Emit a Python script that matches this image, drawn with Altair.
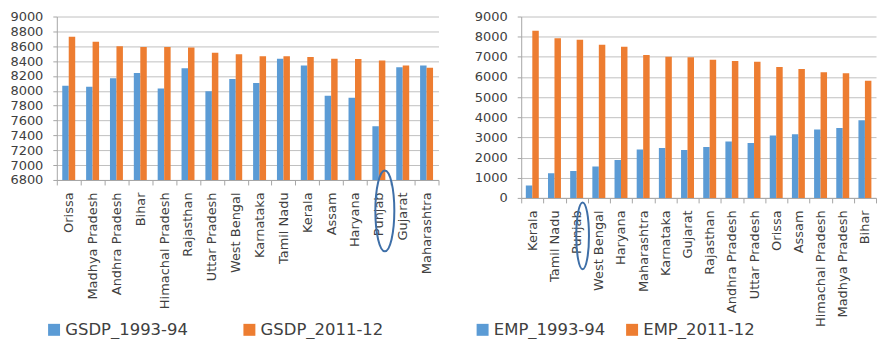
import altair as alt
import pandas as pd

BLUE = "#5B9BD5"
ORANGE = "#ED7D31"
TEXT = "#404040"
AXIS_GREY = "#a6a6a6"
GRID_GREY = "#c0c0c0"
FONT = "DejaVu Sans"

# --- GSDP panel -----------------------------------------------------------
gsdp_states = ["Orissa", "Madhya Pradesh", "Andhra Pradesh", "Bihar",
               "Himachal Pradesh", "Rajasthan", "Uttar Pradesh", "West Bengal",
               "Karnataka", "Tamil Nadu", "Kerala", "Assam", "Haryana",
               "Punjab", "Gujarat", "Maharashtra"]
gsdp_series = ["GSDP_1993-94", "GSDP_2011-12"]
gsdp_1993 = [8068, 8055, 8168, 8241, 8032, 8305, 7995, 8159,
             8105, 8432, 8341, 7932, 7905, 7523, 8318, 8341]
gsdp_2011 = [8727, 8659, 8600, 8591, 8591, 8582, 8514, 8491,
             8464, 8464, 8455, 8432, 8427, 8409, 8341, 8309]
gsdp_ticks = list(range(6800, 9001, 200))

# --- Employment panel -----------------------------------------------------
emp_states = ["Kerala", "Tamil Nadu", "Punjab", "West Bengal", "Haryana",
              "Maharashtra", "Karnataka", "Gujarat", "Rajasthan",
              "Andhra Pradesh", "Uttar Pradesh", "Orissa", "Assam",
              "Himachal Pradesh", "Madhya Pradesh", "Bihar"]
emp_series = ["EMP_1993-94", "EMP_2011-12"]
emp_1993 = [612, 1223, 1339, 1554, 1884, 2397, 2479, 2380,
            2529, 2793, 2727, 3091, 3157, 3388, 3471, 3851]
emp_2011 = [8289, 7917, 7851, 7603, 7504, 7091, 7008, 6975,
            6860, 6793, 6760, 6496, 6397, 6231, 6182, 5818]
emp_ticks = list(range(0, 9001, 1000))

highlight_state = "Punjab"

BAR_W = 6.5  # width of each bar in a pair


def long_table(states, series, first, second):
    rows = []
    for s, a, b in zip(states, first, second):
        rows.append({"state": s, "series": series[0], "value": a})
        rows.append({"state": s, "series": series[1], "value": b})
    return pd.DataFrame(rows)


def ellipse_path(ratio):
    return f"M0,-1 A{ratio},1 0 1,1 0,1 A{ratio},1 0 1,1 0,-1 Z"


def panel(states, series, first, second, ticks, width, height,
          legend_x, legend_y, col_pad, ring_y, ring_size, ring_ratio):
    df = long_table(states, series, first, second)
    lo, hi = ticks[0], ticks[-1]
    x_enc = alt.X(
        "state:N", sort=states,
        scale=alt.Scale(paddingInner=0, paddingOuter=0),
        axis=alt.Axis(title=None, labelAngle=-90, labelFont=FONT,
                      labelFontSize=13, labelColor=TEXT, labelPadding=7,
                      tickBand="extent", tickSize=5, tickColor=AXIS_GREY,
                      domainColor=AXIS_GREY, grid=False),
    )
    y_enc = alt.Y(
        "value:Q",
        scale=alt.Scale(domain=[lo, hi], zero=False, nice=False),
        axis=alt.Axis(title=None, values=ticks, format="d",
                      labelFont=FONT, labelFontSize=13,
                      labelColor=TEXT, labelPadding=10, tickSize=4,
                      tickColor=AXIS_GREY, domainColor=AXIS_GREY,
                      gridColor=GRID_GREY, gridWidth=1),
    )
    color_enc = alt.Color(
        "series:N", sort=series,
        scale=alt.Scale(domain=series, range=[BLUE, ORANGE]),
        legend=alt.Legend(title=None, orient="none", legendX=legend_x,
                          legendY=legend_y, direction="horizontal",
                          symbolType="square", symbolSize=144,
                          symbolStrokeWidth=0, labelFont=FONT,
                          labelFontSize=16.5, labelColor=TEXT,
                          labelOffset=3, columnPadding=col_pad),
    )
    layers = []
    for name, shift in zip(series, (-BAR_W / 2, BAR_W / 2)):
        layers.append(
            alt.Chart(df).transform_filter(alt.datum.series == name)
            .mark_bar(width=BAR_W, xOffset=shift, clip=True)
            .encode(x=x_enc, y=y_enc, y2=alt.datum(lo), color=color_enc)
        )
    ring = alt.Chart(pd.DataFrame({"state": [highlight_state]})).mark_point(
        shape=ellipse_path(ring_ratio), size=ring_size, filled=False,
        stroke="#3E6FA8", strokeWidth=2, opacity=1, xOffset=6,
    ).encode(
        x=alt.X("state:N", sort=states),
        y=alt.value(ring_y),
    )
    return alt.layer(*layers, ring).properties(width=width, height=height)


left = panel(gsdp_states, gsdp_series, gsdp_1993, gsdp_2011, gsdp_ticks,
             width=383, height=164,
             legend_x=-11, legend_y=306, col_pad=53,
             ring_y=195, ring_size=6561, ring_ratio=0.235)
right = panel(emp_states, emp_series, emp_1993, emp_2011, emp_ticks,
              width=356, height=182,
              legend_x=-47, legend_y=306, col_pad=18,
              ring_y=220, ring_size=4489, ring_ratio=0.19)

chart = alt.hconcat(left, right, spacing=34).resolve_scale(
    color="independent"
).properties(
    padding={"left": 9, "top": 10, "right": 0, "bottom": 0},
    background="white",
).configure_view(stroke=None)

chart.save("out.html", embed_options={"renderer": "svg", "actions": False})
